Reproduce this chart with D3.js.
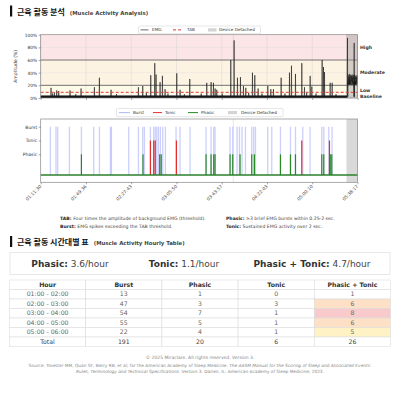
<!DOCTYPE html>
<html><head><meta charset="utf-8">
<script src="https://cdn.jsdelivr.net/npm/d3@7"></script>
<style>
body{margin:0;background:#fff;}
svg{display:block;font-family:"DejaVu Sans",sans-serif;}
</style>
</head><body>
<svg id="c" width="400" height="412"></svg>
<script>
// ---------------- DATA ----------------
const timeTicks = ["01:11:30","01:49:36","02:27:43","03:05:50","03:43:57","04:22:03","05:00:10","05:38:17"];

const emgSpikeTimes = ["01:20:12","01:23:01","01:24:59","01:26:40","01:36:13","01:45:29","01:56:43","02:00:56","02:10:45","02:33:47","02:37:26","02:44:11","02:47:33","02:48:40","02:52:02","02:54:00","02:56:15","03:06:05","03:08:53","03:17:02","03:31:21","03:35:00","03:36:58","03:38:23","03:39:47","03:51:35","03:54:23","03:57:12","03:59:43","04:02:15","04:04:13","04:09:50","04:11:48","04:14:36","04:22:45","04:25:17","04:27:31","04:33:59","04:41:00","04:42:41","04:46:03","04:51:24","04:53:38","04:58:25","04:59:49","05:08:31","05:09:39","05:10:29","05:15:16","05:16:57","05:29:52","05:35:29"];
const emgSpikeAmps = [16,9,12,11,12,15,17,32,13,17,19,36,55,37,25,35,14,39,13,30,24,25,24,15,13,60,91,32,33,19,16,40,36,15,19,14,14,32,40,51,38,55,17,35,18,60,49,41,24,24,95,87];

const emgMinorTimes = ["01:21:30","01:41:00","02:15:20","02:40:30","02:58:40","03:12:30","03:26:40","03:44:20","04:06:40","04:17:50","04:37:10","04:55:30","05:03:20","05:20:10"];
const emgMinorAmps = [7,6,6,8,7,6,7,7,8,7,7,8,7,6];

const emgBaseline = 2;
const tabThreshold = 9;

const detachedNoiseStart = "05:29:40";
const detachedNoiseEnd = "05:38:10";
const detachedNoise = [28,35,24,37,30,22,34,26,38,29,23,36,31,25,35,27,37,24,33,29,36,22,34,28,37,26,32,30,35,25,33,23,36,29];

const zoneNames = ["Baseline","Low","Moderate","High"];
const zoneBounds = [0,5,20,60,100];
const zoneColors = ["#ebebeb","#fdfae8","#fdf3e3","#fce5e6"];

const detachedStarts = ["03:53:20","05:29:00"];
const detachedEnds   = ["03:53:45","05:38:17"];

const eventNames = ["Phasic","Tonic","Burst"];
const eventLevels = [1.5,2.5,3.5];

const burstTimes = ["01:19:40","01:24:23","01:25:49","01:35:40","01:45:47","01:56:09","02:00:57","02:10:13","02:11:03","02:25:38","02:33:48","02:37:25","02:38:51","02:43:54","02:46:41","02:47:57","02:49:13","02:50:39","02:52:20","02:54:16","02:56:32","03:05:28","03:08:50","03:17:16","03:30:44","03:34:57","03:37:13","03:38:19","03:50:57","03:53:14","03:56:51","03:58:52","04:01:04","04:03:55","04:09:14","04:10:55","04:12:21","04:22:43","04:26:05","04:33:24","04:41:50","04:46:03","04:52:11","04:58:21","05:08:12","05:09:53","05:14:06","05:16:52"];
const tonicTimes = ["02:43:54","02:46:41","02:47:57","03:05:48","04:51:21","05:14:41"];
const phasicTimes = ["01:45:47","02:37:40","02:51:44","02:53:00","03:30:44","03:34:57","03:37:13","03:38:19","03:50:57","03:53:14","03:59:23","04:09:14","04:11:30","04:33:24","04:41:50","04:46:03","05:08:12","05:09:53","05:15:21","05:16:37"];

const summaryLabels = ["Phasic:","Tonic:","Phasic + Tonic:"];
const summaryRates = [3.6,1.1,4.7];

const tableHeaders = ["Hour","Burst","Phasic","Tonic","Phasic + Tonic"];
const hourLabels = ["01:00 - 02:00","02:00 - 03:00","03:00 - 04:00","04:00 - 05:00","05:00 - 06:00"];
const burstCounts = [13,47,54,55,22];
const phasicCounts = [1,3,7,5,4];
const tonicCounts = [0,3,1,1,1];

// ---------------- DRAW ----------------
const svg = d3.select("#c");
const parse = d3.timeParse("%H:%M:%S");
const tickDates = timeTicks.map(parse);
const x = d3.scaleTime().domain([tickDates[0], tickDates[tickDates.length-1]]).range([40.7, 357.5]);

function title(y, ko, en){
  svg.append("rect").attr("x",10).attr("y",y-7.5).attr("width",2.2).attr("height",11).attr("fill","#111");
  const t = svg.append("text").attr("x",17).attr("y",y+1.5).attr("fill","#111");
  t.append("tspan").attr("font-family","'Noto Sans CJK KR',sans-serif").attr("font-weight","bold").attr("font-size",8).text(ko);
  t.append("tspan").attr("dx",5).attr("font-weight","bold").attr("font-size",5.4).attr("fill","#444").text(en);
}
title(13, "근육 활동 분석", "(Muscle Activity Analysis)");

// ---- Top chart ----
const yT = d3.scaleLinear().domain([0,100]).range([98,34.7]);
const topG = svg.append("g");
zoneNames.forEach((n,i)=>{
  topG.append("rect").attr("x",x.range()[0]).attr("width",x.range()[1]-x.range()[0])
    .attr("y",yT(zoneBounds[i+1])).attr("height",yT(zoneBounds[i])-yT(zoneBounds[i+1]))
    .attr("fill",zoneColors[i]);
});
topG.selectAll(".gx").data(tickDates).enter().append("line")
  .attr("x1",d=>x(d)).attr("x2",d=>x(d)).attr("y1",yT(100)).attr("y2",yT(0))
  .attr("stroke","#ccc").attr("stroke-width",0.4);
topG.selectAll(".gy").data([20,40,80]).enter().append("line")
  .attr("x1",x.range()[0]).attr("x2",x.range()[1]).attr("y1",d=>yT(d)).attr("y2",d=>yT(d))
  .attr("stroke","#ddd").attr("stroke-width",0.4);
[20,60].forEach(v=>{
  topG.append("line").attr("x1",x.range()[0]).attr("x2",x.range()[1]).attr("y1",yT(v)).attr("y2",yT(v))
    .attr("stroke","#555").attr("stroke-width",0.8);
});
detachedStarts.forEach((s,i)=>{
  topG.append("rect").attr("x",x(parse(s))).attr("width",Math.max(0.6,x(parse(detachedEnds[i]))-x(parse(s))))
    .attr("y",yT(100)).attr("height",yT(0)-yT(100)).attr("fill","#9a9a9a").attr("opacity",0.42)
    .attr("stroke", i===detachedStarts.length-1 ? "#777" : "none").attr("stroke-width",0.5);
});
const spikes = emgSpikeTimes.map((t,i)=>({t:parse(t),a:emgSpikeAmps[i]}))
  .concat(emgMinorTimes.map((t,i)=>({t:parse(t),a:emgMinorAmps[i]})))
  .sort((a,b)=>a.t-b.t);
const dt = 12000;
let pts = [{t:tickDates[0],a:emgBaseline}];
spikes.forEach(s=>{
  pts.push({t:new Date(+s.t-dt),a:emgBaseline});
  pts.push({t:s.t,a:s.a});
  pts.push({t:new Date(+s.t+dt),a:emgBaseline});
});
const ns = parse(detachedNoiseStart), ne = parse(detachedNoiseEnd);
const nStep = (ne-ns)/(detachedNoise.length-1);
detachedNoise.forEach((v,i)=>pts.push({t:new Date(+ns+i*nStep),a:v}));
pts.sort((a,b)=>a.t-b.t);
const line = d3.line().x(d=>x(d.t)).y(d=>yT(d.a));
topG.append("line").attr("x1",x.range()[0]).attr("x2",x(parse("05:29:40"))).attr("y1",yT(emgBaseline)).attr("y2",yT(emgBaseline))
  .attr("stroke","#111").attr("stroke-width",2.4);
topG.append("path").attr("d",line(pts)).attr("fill","none").attr("stroke","#1a1a1a").attr("stroke-width",0.75).attr("stroke-opacity",0.8);
topG.append("path").attr("d",d3.area().x(d=>x(d.t)).y0(yT(21)).y1(d=>yT(d.a-4))(detachedNoise.map((v,i)=>({t:new Date(+ns+i*nStep),a:v}))))
  .attr("fill","#111");
topG.append("line").attr("x1",x.range()[0]).attr("x2",x.range()[1]).attr("y1",yT(tabThreshold)).attr("y2",yT(tabThreshold))
  .attr("stroke","#e03a3a").attr("stroke-width",1).attr("stroke-dasharray","3,2");
topG.append("rect").attr("x",x.range()[0]).attr("y",yT(100)).attr("width",x.range()[1]-x.range()[0]).attr("height",yT(0)-yT(100))
  .attr("fill","none").attr("stroke","#888").attr("stroke-width",0.7);
const yAx = topG.append("g").attr("transform",`translate(${x.range()[0]},0)`)
  .call(d3.axisLeft(yT).tickValues([0,20,40,60,80,100]).tickFormat(d=>d+"%").tickSize(2).tickPadding(1.5));
yAx.select(".domain").remove();
yAx.selectAll("text").attr("font-size",4.4).attr("fill","#333").attr("font-family","DejaVu Sans");
yAx.selectAll("line").attr("stroke","#555").attr("stroke-width",0.5);
const xAxT = topG.append("g").attr("transform",`translate(0,${yT(0)})`)
  .call(d3.axisBottom(x).tickValues(tickDates).tickFormat("").tickSize(2));
xAxT.select(".domain").remove();
xAxT.selectAll("line").attr("stroke","#555").attr("stroke-width",0.5);
topG.append("text").attr("transform",`translate(17,${(yT(0)+yT(100))/2}) rotate(-90)`).attr("text-anchor","middle")
  .attr("font-size",4.6).attr("fill","#333").text("Amplitude (%)");
zoneNames.forEach((n,i)=>{
  topG.append("text").attr("x",360).attr("y",yT((zoneBounds[i]+zoneBounds[i+1])/2)+1.6 + (i===0?0.3:0))
    .attr("font-size",4.6).attr("font-weight","bold").attr("fill","#333").text(n);
});
{
  const g = topG.append("g");
  g.append("rect").attr("x",138.5).attr("y",26).attr("width",122).attr("height",7.8).attr("fill","#fff").attr("stroke","#ccc").attr("stroke-width",0.5).attr("rx",1);
  g.append("line").attr("x1",140.5).attr("x2",148.5).attr("y1",29.9).attr("y2",29.9).attr("stroke","#444").attr("stroke-width",0.8);
  g.append("text").attr("x",152).attr("y",31.4).attr("font-size",4.2).attr("fill","#333").text("EMG");
  g.append("line").attr("x1",173).attr("x2",183).attr("y1",29.9).attr("y2",29.9).attr("stroke","#e03a3a").attr("stroke-width",1).attr("stroke-dasharray","3,2");
  g.append("text").attr("x",187).attr("y",31.4).attr("font-size",4.2).attr("fill","#333").text("TAB");
  g.append("rect").attr("x",208).attr("y",28.3).attr("width",8.5).attr("height",3.2).attr("fill","#d4d4d4");
  g.append("text").attr("x",219).attr("y",31.4).attr("font-size",4.2).attr("fill","#333").text("Device Detached");
}

// ---- Bottom chart ----
const yB = d3.scaleLinear().domain([-0.53,4.06]).range([182.3,119]);
const bot = svg.append("g");
detachedStarts.forEach((s,i)=>{
  bot.append("rect").attr("x",x(parse(s))).attr("width",Math.max(0.6,x(parse(detachedEnds[i]))-x(parse(s))))
    .attr("y",yB.range()[1]).attr("height",yB.range()[0]-yB.range()[1]).attr("fill","#9a9a9a").attr("opacity",0.38);
});
function events(times, lvl, color, w, op){
  bot.selectAll(null).data(times.map(parse)).enter().append("line")
    .attr("x1",d=>x(d)).attr("x2",d=>x(d)).attr("y1",yB(0)).attr("y2",yB(lvl))
    .attr("stroke",color).attr("stroke-width",w).attr("stroke-opacity",op);
}
events(burstTimes, eventLevels[2], "#aab0f6", 1.3, 0.6);
events(tonicTimes, eventLevels[1], "#e52d2d", 1.2, 1);
events(phasicTimes, eventLevels[0], "#278a27", 1.2, 1);
bot.append("line").attr("x1",x.range()[0]).attr("x2",x.range()[1]).attr("y1",yB(0)).attr("y2",yB(0))
  .attr("stroke","#2a7f2a").attr("stroke-width",1.4);
bot.append("rect").attr("x",x.range()[0]).attr("y",yB.range()[1]).attr("width",x.range()[1]-x.range()[0]).attr("height",yB.range()[0]-yB.range()[1])
  .attr("fill","none").attr("stroke","#888").attr("stroke-width",0.7);
const yAxB = bot.append("g").attr("transform",`translate(${x.range()[0]},0)`)
  .call(d3.axisLeft(yB).tickValues(eventLevels).tickFormat((d,i)=>eventNames[i]).tickSize(2).tickPadding(1.5));
yAxB.select(".domain").remove();
yAxB.selectAll("text").attr("font-size",4.5).attr("fill","#333").attr("font-family","DejaVu Sans");
yAxB.selectAll("line").attr("stroke","#555").attr("stroke-width",0.5);
const xAxB = bot.append("g").attr("transform",`translate(0,${yB.range()[0]})`)
  .call(d3.axisBottom(x).tickValues(tickDates).tickFormat((d,i)=>timeTicks[i]).tickSize(2));
xAxB.select(".domain").remove();
xAxB.selectAll("line").attr("stroke","#555").attr("stroke-width",0.5);
xAxB.selectAll("text").attr("font-size",4.5).attr("fill","#444").attr("font-family","DejaVu Sans")
  .attr("text-anchor","end").attr("dy",0).attr("y",0)
  .attr("transform","translate(0.5,4.5) rotate(-45)");
{
  const g = bot.append("g");
  g.append("rect").attr("x",116.5).attr("y",108.5).attr("width",166.5).attr("height",8.2).attr("fill","#fff").attr("stroke","#ccc").attr("stroke-width",0.5).attr("rx",1);
  const ly = 112.6, ty = 114.1;
  g.append("line").attr("x1",119).attr("x2",130).attr("y1",ly).attr("y2",ly).attr("stroke","#b3b8f7").attr("stroke-width",1);
  g.append("text").attr("x",133).attr("y",ty).attr("font-size",4.2).attr("fill","#333").text("Burst");
  g.append("line").attr("x1",153).attr("x2",162).attr("y1",ly).attr("y2",ly).attr("stroke","#e52d2d").attr("stroke-width",1);
  g.append("text").attr("x",165).attr("y",ty).attr("font-size",4.2).attr("fill","#333").text("Tonic");
  g.append("line").attr("x1",188).attr("x2",198).attr("y1",ly).attr("y2",ly).attr("stroke","#278a27").attr("stroke-width",1);
  g.append("text").attr("x",201).attr("y",ty).attr("font-size",4.2).attr("fill","#333").text("Phasic");
  g.append("rect").attr("x",228).attr("y",111).attr("width",9).attr("height",3.2).attr("fill","#d4d4d4");
  g.append("text").attr("x",241).attr("y",ty).attr("font-size",4.2).attr("fill","#333").text("Device Detached");
}
const notes = [
  {x:60,y:219.5,b:"TAB:",t:" Four times the amplitude of background EMG (threshold)."},
  {x:60,y:228,b:"Burst:",t:" EMG spikes exceeding the TAB threshold."},
  {x:226,y:219.5,b:"Phasic:",t:" \u22653 brief EMG bursts within 0.25-2 sec."},
  {x:226,y:228,b:"Tonic:",t:" Sustained EMG activity over 2 sec."}
];
notes.forEach(n=>{
  const t = svg.append("text").attr("x",n.x).attr("y",n.y).attr("font-size",4.6).attr("fill","#444");
  t.append("tspan").attr("font-weight","bold").attr("fill","#222").text(n.b);
  t.append("tspan").text(n.t);
});

// ---- Section 2 ----
title(243.5, "근육 활동 시간대별 표", "(Muscle Activity Hourly Table)");
svg.append("rect").attr("x",10).attr("y",252.5).attr("width",380).attr("height",22).attr("fill","#fff").attr("stroke","#ddd").attr("stroke-width",0.7);
const sumX = [70, 184, 312];
summaryLabels.forEach((l,i)=>{
  const t = svg.append("text").attr("x",sumX[i]).attr("y",267.3).attr("text-anchor","middle").attr("font-size",9).attr("fill","#333");
  t.append("tspan").attr("font-weight","bold").text(l);
  t.append("tspan").attr("fill","#444").text(" "+summaryRates[i]+"/hour");
});

const tx0 = 9.5, colW = 76.2, rowH = 9.5, ty0 = 280;
const combined = phasicCounts.map((p,i)=>p+tonicCounts[i]);
const rows = hourLabels.map((h,i)=>[h, burstCounts[i], phasicCounts[i], tonicCounts[i], combined[i]]);
rows.push(["Total", d3.sum(burstCounts), d3.sum(phasicCounts), d3.sum(tonicCounts), d3.sum(combined)]);
const heat = d3.scaleThreshold().domain([5,6,7]).range(["#ffffff","#fff3c6","#fde0c6","#f8cacb"]);
const tbl = svg.append("g");
tableHeaders.forEach((h,j)=>{
  tbl.append("rect").attr("x",tx0+j*colW).attr("y",ty0).attr("width",colW).attr("height",rowH).attr("fill","#fff").attr("stroke","#ddd").attr("stroke-width",0.6);
  tbl.append("text").attr("x",tx0+j*colW+colW/2).attr("y",ty0+rowH/2+2.2).attr("text-anchor","middle")
    .attr("font-size",6.2).attr("font-weight","bold").attr("fill","#333").text(h);
});
rows.forEach((r,i)=>{
  const y = ty0 + rowH*(i+1);
  const isTotal = i===rows.length-1;
  r.forEach((v,j)=>{
    const fill = (j===4 && !isTotal) ? heat(v) : "#fff";
    tbl.append("rect").attr("x",tx0+j*colW).attr("y",y).attr("width",colW).attr("height",rowH).attr("fill",fill).attr("stroke","#ddd").attr("stroke-width",0.6);
    tbl.append("text").attr("x",tx0+j*colW+colW/2).attr("y",y+rowH/2+2.2).attr("text-anchor","middle")
      .attr("font-size",6.2).attr("fill",isTotal?"#444":"#666").text(v);
  });
});

svg.append("text").attr("x",200).attr("y",358.5).attr("text-anchor","middle").attr("font-size",4.5).attr("fill","#888")
  .text("\u00a9 2025 Miraclare. All rights reserved. Version 3.");
const s1 = svg.append("text").attr("x",200).attr("y",366.5).attr("text-anchor","middle").attr("font-size",4.3).attr("fill","#888");
s1.append("tspan").text("Source: Troester MM, Quan SF, Berry RB, et al; for the American Academy of Sleep Medicine. ");
s1.append("tspan").attr("font-style","italic").text("The AASM Manual for the Scoring of Sleep and Associated Events:");
const s2 = svg.append("text").attr("x",200).attr("y",373).attr("text-anchor","middle").attr("font-size",4.3).attr("fill","#888");
s2.append("tspan").attr("font-style","italic").text("Rules, Terminology and Technical Specifications.");
s2.append("tspan").text(" Version 3. Darien, IL: American Academy of Sleep Medicine; 2023.");
</script>
</body></html>
